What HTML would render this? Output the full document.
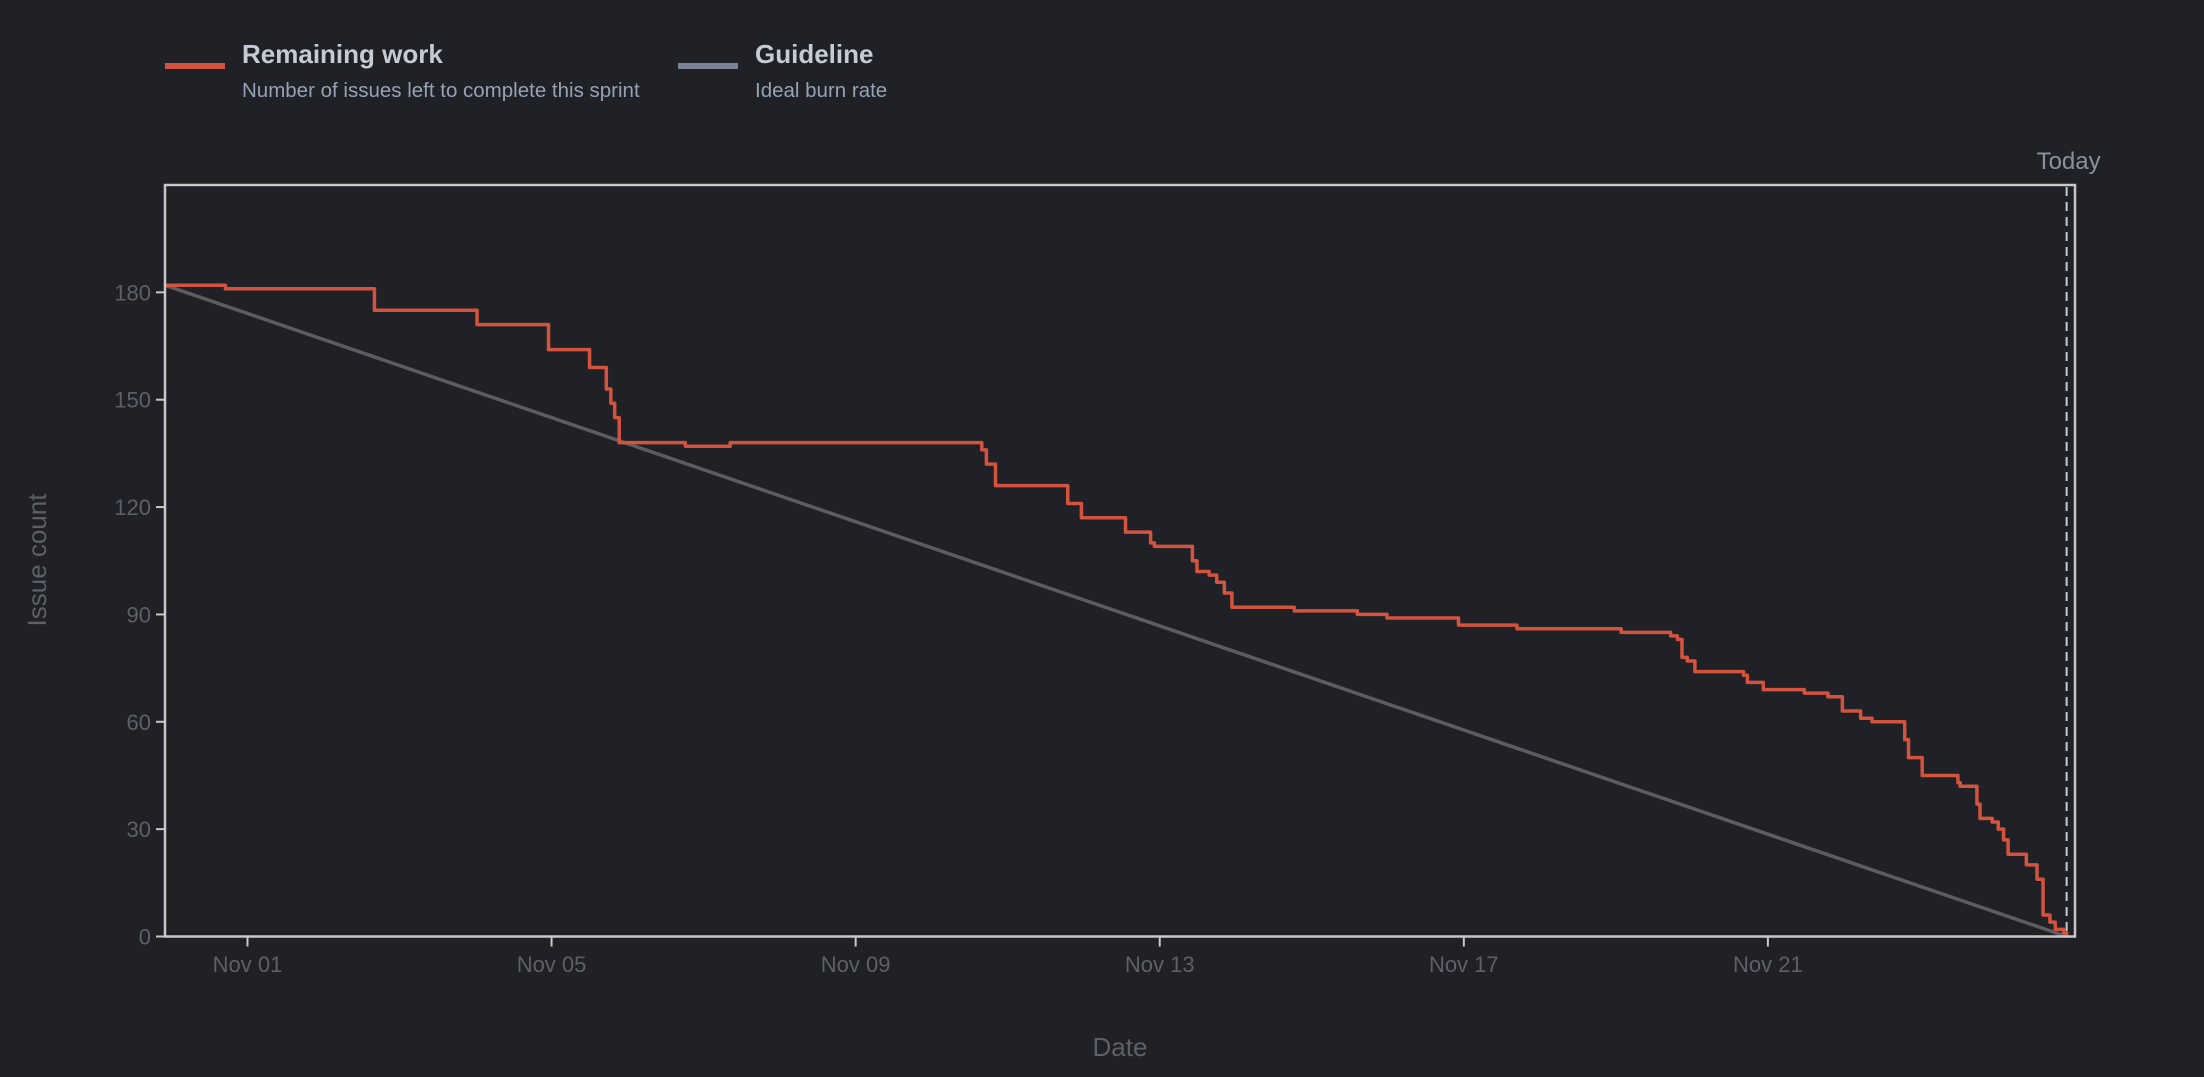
<!DOCTYPE html>
<html><head><meta charset="utf-8"><style>
html,body{margin:0;padding:0;background:#1f2126;}
svg{display:block;font-family:"Liberation Sans",sans-serif;}
</style></head><body>
<svg id="chart" width="2204" height="1077" viewBox="0 0 2204 1077">
<rect x="0" y="0" width="2204" height="1077" fill="#1f2126"/>
<g>
 <g>
  <rect x="165" y="63" width="60" height="6" fill="#d4533f"/>
  <text x="242" y="63" font-size="26" font-weight="bold" fill="#c5cbd5">Remaining work</text>
  <text x="242" y="97" font-size="20.5" fill="#96a2b4">Number of issues left to complete this sprint</text>
 </g>
 <g>
  <rect x="678" y="63" width="60" height="6" fill="#7a8494"/>
  <text x="755" y="63" font-size="26" font-weight="bold" fill="#c5cbd5">Guideline</text>
  <text x="755" y="97" font-size="20.5" fill="#96a2b4">Ideal burn rate</text>
 </g>
</g>
<g id="plot"></g>
</svg>
<script>
// data: days offset from Nov 01, remaining issue counts
const stepDays = [-1.085,-0.29,1.67,3.02,3.96,4.50,4.72,4.78,4.83,4.89,5.76,6.35,9.66,9.72,9.84,10.79,10.97,11.55,11.88,11.93,12.4,12.43,12.49,12.65,12.75,12.85,12.95,13.77,14.6,14.99,15.93,16.7,18.07,18.72,18.81,18.87,18.94,19.04,19.68,19.73,19.94,20.48,20.79,20.98,21.22,21.37,21.8,21.85,22.03,22.5,22.53,22.75,22.79,22.95,23.03,23.1,23.16,23.4,23.54,23.62,23.71,23.78,23.89,23.93];
const stepValues = [182,181,175,171,164,159,153,149,145,138,137,138,136,132,126,121,117,113,110,109,109,105,102,101,99,96,92,91,90,89,87,86,85,84,83,78,77,74,73,71,69,68,67,63,61,60,55,50,45,43,42,37,33,32,30,27,23,20,16,6,4,2,1,0];
const guideStart = [-1.085,182];
const guideEnd = [23.93,0];
const todayDay = 23.93;
const yTicks = [0,30,60,90,120,150,180];
const xTickDays = [0,4,8,12,16,20];
const xTickLabels = ["Nov 01","Nov 05","Nov 09","Nov 13","Nov 17","Nov 21"];

const L=165,R=2075,T=185,B=936.5;
const xDomain=[-1.085,24.04], yDomain=[0,210];
const xs=d=>L+(d-xDomain[0])/(xDomain[1]-xDomain[0])*(R-L);
const ys=v=>B-(v-yDomain[0])/(yDomain[1]-yDomain[0])*(B-T);
const NS="http://www.w3.org/2000/svg";
const plot=document.getElementById('plot');
function mk(tag,attrs,parent){const e=document.createElementNS(NS,tag);for(const k in attrs)e.setAttribute(k,attrs[k]);(parent||plot).appendChild(e);return e;}

yTicks.forEach(v=>{
  const t=mk('line',{x1:L-9,x2:L,y1:ys(v),y2:ys(v),stroke:'#c8c8c8','stroke-width':2});
  
  
  const lb=mk('text',{x:L-14,y:ys(v)+8,'text-anchor':'end','font-size':22,fill:'#5d6066'});
  lb.textContent=v;
  
  
});
xTickDays.forEach((d,i)=>{
  const t=mk('line',{x1:xs(d),x2:xs(d),y1:B,y2:B+10,stroke:'#c8c8c8','stroke-width':2});
  
  
  const lb=mk('text',{x:xs(d),y:972,'text-anchor':'middle','font-size':22,fill:'#5d6066'});
  lb.textContent=xTickLabels[i];
  
  
});
const g=mk('line',{x1:xs(guideStart[0]),y1:ys(guideStart[1]),x2:xs(guideEnd[0]),y2:ys(guideEnd[1]),stroke:'#5b5d61','stroke-width':3.5});


let d='M'+xs(stepDays[0])+' '+ys(stepValues[0]);
for(let i=1;i<stepDays.length;i++){d+=' H'+xs(stepDays[i])+' V'+ys(stepValues[i]);}
const rl=mk('path',{d:d,fill:'none',stroke:'#d4533f','stroke-width':3.5,'stroke-linejoin':'round'});


const tl=mk('line',{x1:xs(todayDay),x2:xs(todayDay),y1:T+2,y2:B,stroke:'#c5cad2','stroke-width':2,'stroke-dasharray':'9,6'});


const tt=mk('text',{x:xs(todayDay)+34,y:169,'text-anchor':'end','font-size':24,fill:'#8a909c'});
tt.textContent='Today';


const fr=mk('rect',{x:L,y:T,width:R-L,height:B-T,fill:'none',stroke:'#c8c8c8','stroke-width':2.5});


const yt=mk('text',{x:0,y:0,transform:'translate(46,560) rotate(-90)','text-anchor':'middle','font-size':26,fill:'#5d6066'});
yt.textContent='Issue count';


const xt=mk('text',{x:1120,y:1056,'text-anchor':'middle','font-size':26,fill:'#5d6066'});
xt.textContent='Date';


</script>
</body></html>
